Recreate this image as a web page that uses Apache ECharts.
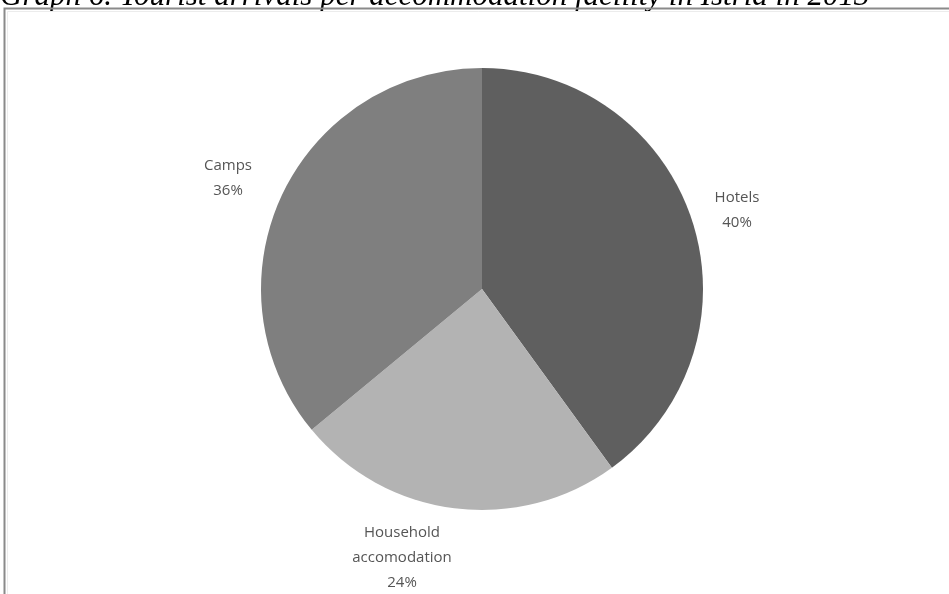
<!DOCTYPE html>
<html>
<head>
<meta charset="utf-8">
<script src="https://cdn.jsdelivr.net/npm/echarts@6/dist/echarts.min.js"></script>
<style>
  html, body { margin: 0; padding: 0; background: #fff; }
  #chart { width: 949px; height: 594px; }
</style>
</head>
<body>
<div id="chart"></div>
<script>
const categories = ['Hotels', 'Household\naccomodation', 'Camps'];
const shares = [40, 24, 36];
const sliceColors = ['#5f5f5f', '#b3b3b3', '#7f7f7f'];
// label centres (px)
const labelSpots = [[737, 210], [402, 558], [228, 178]];

const chart = echarts.init(document.getElementById('chart'));

const option = {
    backgroundColor: '#fff',
    animation: false,
    graphic: [
        {
            type: 'text',
            left: 0,
            top: -19,
            style: {
                text: 'Graph 6. Tourist arrivals per accommodation facility in Istria in 2013',
                fontFamily: 'Liberation Serif',
                fontStyle: 'italic',
                fontSize: 31,
                fill: '#000'
            }
        },
        {
            type: 'rect',
            shape: { x: 4.5, y: 8.5, width: 1000, height: 1000 },
            style: { fill: 'none', stroke: '#8a8a8a', lineWidth: 2 }
        },
        {
            type: 'rect',
            shape: { x: 7.5, y: 11.5, width: 1000, height: 1000 },
            style: { fill: 'none', stroke: '#ececec', lineWidth: 1 }
        }
    ],
    series: [
        {
            type: 'pie',
            center: [482, 289],
            radius: 221,
            startAngle: 90,
            clockwise: true,
            label: {
                show: true,
                position: 'outside',
                formatter: p => p.name + '\n' + p.value + '%',
                fontFamily: 'Open Sans',
                fontSize: 15,
                lineHeight: 25,
                color: '#555555',
                align: 'center'
            },
            labelLine: { show: false },
            labelLayout: p => ({
                x: labelSpots[p.dataIndex][0],
                y: labelSpots[p.dataIndex][1],
                align: 'center',
                verticalAlign: 'middle'
            }),
            emphasis: { disabled: true },
            data: categories.map((c, i) => ({
                name: c,
                value: shares[i],
                itemStyle: { color: sliceColors[i] }
            }))
        }
    ]
};

chart.setOption(option);
</script>
</body>
</html>
